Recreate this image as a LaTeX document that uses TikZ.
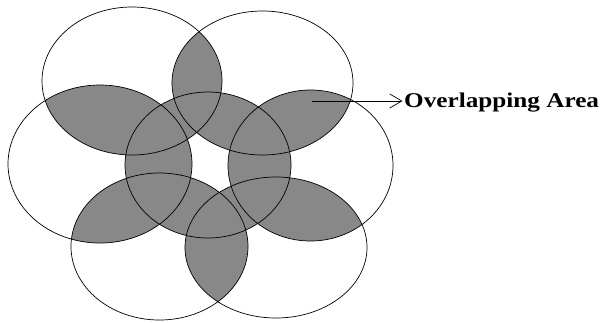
\documentclass[tikz,border=0pt]{standalone}
\usepackage{fontspec}
\setmainfont{Liberation Serif}
\usetikzlibrary{arrows.meta}
\definecolor{lensgray}{RGB}{136,136,136}
\def\ells{208/165/83/73, 100/164/92/79, 132/81/90/74, 262.5/83/90.5/72, 310.5/165.5/82.5/75.5, 159.5/246.5/88.5/73.5, 276/247.5/91/70.5}
\begin{document}
\begin{tikzpicture}[x=1pt,y=-1pt,
  outline/.style={draw=black, line width=0.7pt},
  lens/.style={fill=lensgray},
  pointer/.style={-{Straight Barb[length=12pt,width=14pt,line width=0.7pt]}, line width=0.7pt, shorten >=1.5pt},
  labeltext/.style={font=\bfseries\fontsize{21}{25}\selectfont, inner sep=0pt, anchor=base west}]
\useasboundingbox (0,0) rectangle (600,322);
% shaded overlaps: every pairwise intersection
\foreach \xa/\ya/\rxa/\rya [count=\i] in \ells {
  \foreach \xb/\yb/\rxb/\ryb [count=\j] in \ells {
    \ifnum\j>\i
      \begin{scope}
        \clip (\xa,\ya) ellipse [x radius=\rxa pt, y radius=\rya pt];
        \fill[lens] (\xb,\yb) ellipse [x radius=\rxb pt, y radius=\ryb pt];
      \end{scope}
    \fi
  }
}
% outlines
\foreach \x/\y/\rx/\ry in \ells {
  \draw[outline] (\x,\y) ellipse [x radius=\rx pt, y radius=\ry pt];
}
% label and pointer
\coordinate (arrowstart) at (312,101);
\node[labeltext] (label) at (404,107) {\scalebox{1.2}[1]{Overlapping Area}};
\draw[pointer] (arrowstart) -- (arrowstart -| label.west);
\end{tikzpicture}
\end{document}
